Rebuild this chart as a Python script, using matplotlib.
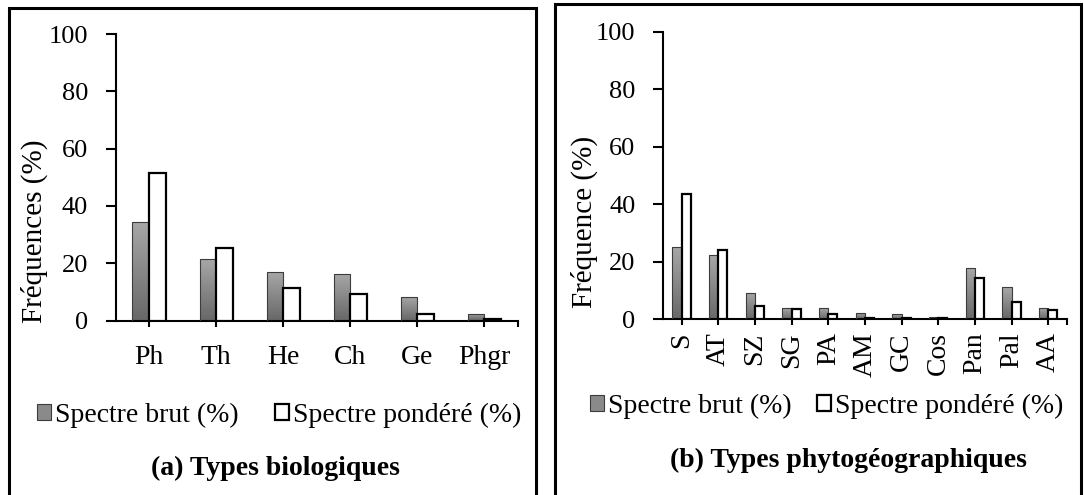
import matplotlib
matplotlib.use('Agg')
import matplotlib.pyplot as plt
import numpy as np
from matplotlib.colors import LinearSegmentedColormap
from matplotlib.patches import Rectangle

plt.rcParams['font.family'] = ['Liberation Serif', 'DejaVu Serif']

# (a) Types biologiques
bio_types = ['Ph', 'Th', 'He', 'Ch', 'Ge', 'Phgr']
bio_brut = [34.5, 21.4, 16.9, 16.1, 8.1, 2.3]
bio_pond = [51.6, 25.3, 11.3, 9.2, 2.3, 0.4]

# (b) Types phytogéographiques
geo_types = ['S', 'AT', 'SZ', 'SG', 'PA', 'AM', 'GC', 'Cos', 'Pan', 'Pal', 'AA']
geo_brut = [25.1, 22.2, 9.1, 3.7, 3.7, 2.1, 1.6, 0.8, 17.9, 11.1, 3.7]
geo_pond = [43.7, 24.1, 4.4, 3.6, 1.6, 0.5, 0.4, 0.4, 14.2, 5.8, 3.3]

W, H = 1084, 495
gray_cmap = LinearSegmentedColormap.from_list('g', ['#686868', '#a8a8a8'])


def px(x0, y0, x1, y1):
    # pixel box (top-left origin) -> figure fraction rect
    return [x0 / W, 1 - y1 / H, (x1 - x0) / W, (y1 - y0) / H]


def draw_panel(fig, rect, cats, brut, pond, ylabel, rotate, label_xy):
    ax = fig.add_axes(rect)
    n = len(cats)
    x = np.arange(n)
    w = 0.25
    b1 = ax.bar(x - w / 2, brut, w, facecolor='none', edgecolor='#3c3c3c',
                linewidth=0.8, zorder=3)
    b2 = ax.bar(x + w / 2, pond, w, facecolor='white', edgecolor='black',
                linewidth=1.6, zorder=3)
    grad = np.linspace(1, 0, 256).reshape(-1, 1)
    for b in b1:
        im = ax.imshow(grad, extent=[b.get_x(), b.get_x() + b.get_width(),
                                     b.get_y(), b.get_y() + b.get_height()],
                       cmap=gray_cmap, aspect='auto', zorder=2, vmin=0, vmax=1)
        im.set_clip_path(b)

    ax.set_xlim(-0.5, n - 0.5)
    ax.set_ylim(0, 100)
    ax.set_yticks(range(0, 101, 20))
    ax.set_xticks(list(x) + [n - 0.5])
    ax.set_xticklabels(cats + [''], rotation=90 if rotate else 0,
                       va='top', ha='center')
    for s in ['top', 'right']:
        ax.spines[s].set_visible(False)
    for s in ['left', 'bottom']:
        ax.spines[s].set_linewidth(1.5)
    ax.tick_params(axis='y', direction='out', length=7, width=1.5,
                   labelsize=19, pad=13)
    ax.tick_params(axis='x', direction='out', length=4.5, width=1.5,
                   labelsize=20, pad=5 if rotate else 13)
    ax.set_ylabel(ylabel, fontsize=21)
    ax.yaxis.set_label_coords(*label_xy)
    return ax


fig = plt.figure(figsize=(W / 100, H / 100), dpi=100)

# panel frames
fig.patches.append(Rectangle((9 / W, -0.02), (536 - 9) / W, 1.02 - 8 / H,
                             transform=fig.transFigure, fill=False,
                             edgecolor='black', linewidth=2.2))
fig.patches.append(Rectangle((555 / W, -0.02), (1081 - 555) / W, 1.02 - 4 / H,
                             transform=fig.transFigure, fill=False,
                             edgecolor='black', linewidth=2.2))

ax1 = draw_panel(fig, px(115.7, 34.2, 518, 320.5), bio_types, bio_brut,
                 bio_pond, 'Fréquences (%)', False, (-0.168, 0.313))
ax2 = draw_panel(fig, px(663.3, 32, 1066.5, 319), geo_types, geo_brut,
                 geo_pond, 'Fréquence (%)', True, (-0.162, 0.338))

leg_h1 = Rectangle((0, 0), 1, 1, facecolor='#8a8a8a', edgecolor='#3c3c3c',
                   linewidth=0.8)
leg_h2 = Rectangle((0, 0), 1, 1, facecolor='white', edgecolor='black',
                   linewidth=1.6)
for cx, cy, cs in [(279, 415, 1.3), (827, 406, 0.9)]:
    fig.legend([leg_h1, leg_h2], ['Spectre brut (%)', 'Spectre pondéré (%)'],
               loc='center', bbox_to_anchor=(cx / W, 1 - cy / H), ncol=2,
               frameon=False, fontsize=20, handlelength=0.5,
               handleheight=0.5, handletextpad=0.15, columnspacing=cs,
               borderpad=0, borderaxespad=0)

fig.text(275.5 / W, 1 - 468 / H, '(a) Types biologiques', ha='center',
         va='center', fontsize=20, fontweight='bold')
fig.text(848.6 / W, 1 - 460 / H, '(b) Types phytogéographiques', ha='center',
         va='center', fontsize=20, fontweight='bold')

fig.savefig('out.png', dpi=100)
